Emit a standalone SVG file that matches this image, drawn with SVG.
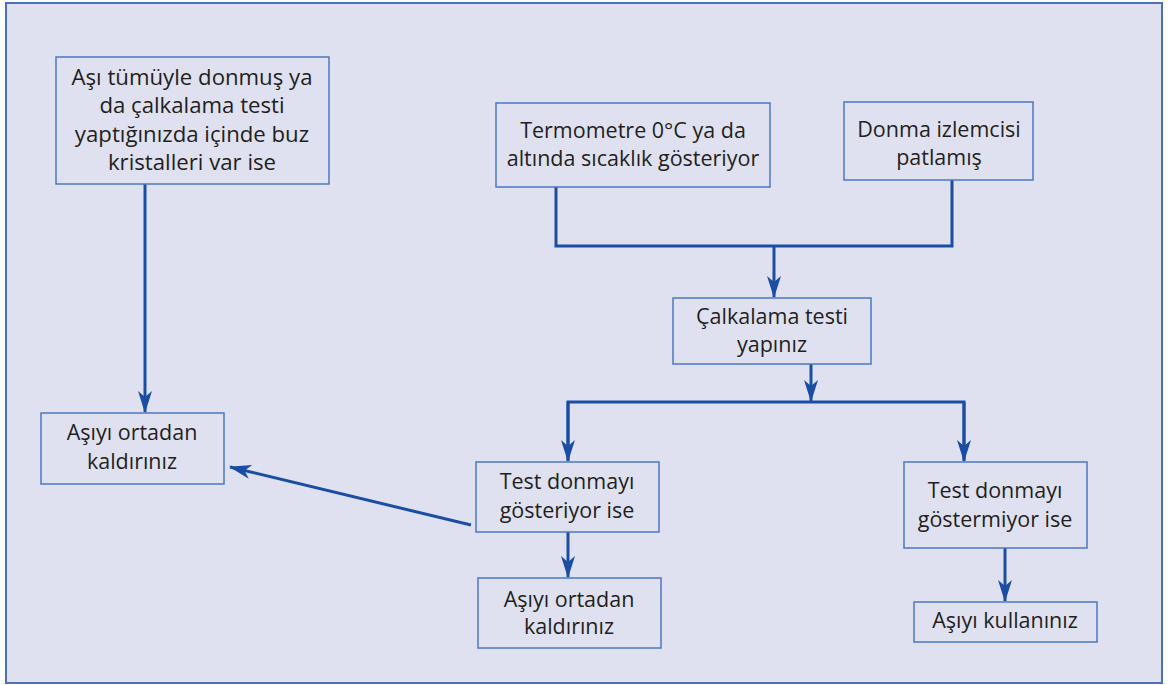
<svg xmlns="http://www.w3.org/2000/svg" width="1170" height="685" viewBox="0 0 1170 685">
<defs>
<style>
.box{fill:#dfe1f1;stroke:#4b78c0;stroke-width:1.5}
.t{font-family:"Open Sans","Liberation Sans",sans-serif;font-size:21.5px;fill:#231f20;text-anchor:middle}
.big{font-size:22.2px}
.c{fill:none;stroke:#1a4ea3;stroke-width:3}
</style>
<marker id="ah" viewBox="0 0 22 14" refX="21" refY="7" markerWidth="22" markerHeight="14" markerUnits="userSpaceOnUse" orient="auto">
<path d="M0,0 L22,7 L0,14 L6,7 z" fill="#1a4ea3"/>
</marker>
</defs>
<rect x="0" y="0" width="1170" height="685" fill="#ffffff"/>
<rect x="6" y="3" width="1156" height="680" fill="#dfe1f1" stroke="#4a72b8" stroke-width="2"/>
<g id="connectors">
<path class="c" d="M145,184 V412" marker-end="url(#ah)"/>
<path class="c" d="M556,187 V246 H952 V180"/>
<path class="c" d="M774,246 V297" marker-end="url(#ah)"/>
<path class="c" d="M811,364 V401" marker-end="url(#ah)"/>
<path class="c" d="M568,460 V402 H964 V460"/>
<path class="c" d="M568,402 V461" marker-end="url(#ah)"/>
<path class="c" d="M964,402 V461" marker-end="url(#ah)"/>
<path class="c" d="M568,532 V577" marker-end="url(#ah)"/>
<path class="c" d="M1005,548 V601" marker-end="url(#ah)"/>
<path class="c" d="M471,525 L230,467" marker-end="url(#ah)"/>
</g>
<g id="n1"><rect class="box" x="56" y="57" width="273" height="127"/>
<text class="t big" x="192" y="85">Aşı tümüyle donmuş ya</text>
<text class="t big" x="192" y="113">da çalkalama testi</text>
<text class="t big" x="192" y="142">yaptığınızda içinde buz</text>
<text class="t big" x="192" y="170">kristalleri var ise</text></g>
<g id="n2"><rect class="box" x="496" y="103" width="274" height="84"/>
<text class="t" x="633" y="138">Termometre 0°C ya da</text>
<text class="t" x="633" y="166">altında sıcaklık gösteriyor</text></g>
<g id="n3"><rect class="box" x="844" y="102" width="189" height="78"/>
<text class="t" x="939" y="137">Donma izlemcisi</text>
<text class="t" x="939" y="165">patlamış</text></g>
<g id="n4"><rect class="box" x="673" y="298" width="198" height="66"/>
<text class="t" x="772" y="324">Çalkalama testi</text>
<text class="t" x="772" y="352">yapınız</text></g>
<g id="n5"><rect class="box" x="476" y="462" width="183" height="70"/>
<text class="t" x="567" y="489">Test donmayı</text>
<text class="t" x="567" y="518">gösteriyor ise</text></g>
<g id="n6"><rect class="box" x="904" y="462" width="183" height="86"/>
<text class="t" x="995" y="498">Test donmayı</text>
<text class="t" x="995" y="527">göstermiyor ise</text></g>
<g id="n7"><rect class="box" x="478" y="578" width="183" height="70"/>
<text class="t" x="569" y="607">Aşıyı ortadan</text>
<text class="t" x="569" y="634">kaldırınız</text></g>
<g id="n8"><rect class="box" x="914" y="602" width="183" height="40"/>
<text class="t" x="1005" y="628">Aşıyı kullanınız</text></g>
<g id="n9"><rect class="box" x="41" y="413" width="183" height="71"/>
<text class="t" x="132" y="440">Aşıyı ortadan</text>
<text class="t" x="132" y="469">kaldırınız</text></g>
</svg>
